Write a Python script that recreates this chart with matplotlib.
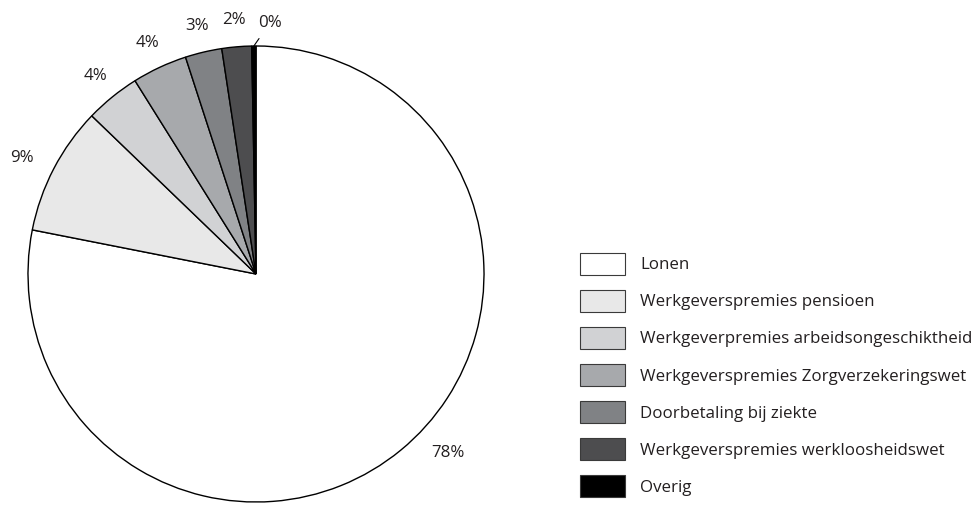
import numpy as np
import matplotlib.pyplot as plt

# loonkosten opbouw (aandelen in %)
categories = ['Lonen', 'Werkgeverspremies pensioen', 'Werkgeverpremies arbeidsongeschiktheid',
              'Werkgeverspremies Zorgverzekeringswet', 'Doorbetaling bij ziekte',
              'Werkgeverspremies werkloosheidswet', 'Overig']
shares = [78.1, 9.1, 3.9, 3.9, 2.6, 2.1, 0.3]
colors = ['#ffffff', '#e8e8e8', '#d1d2d4', '#a7a9ac', '#808285', '#4d4d4f', '#000000']

plt.rcParams['font.family'] = ['Open Sans', 'DejaVu Sans']
fs = 12.2

fig = plt.figure(figsize=(9.79, 5.07), dpi=100)
ax = fig.add_axes([28 / 979, 5 / 507, 456 / 979, 456 / 507])

wedges, texts = ax.pie(shares, colors=colors, startangle=90, counterclock=False,
                       labels=[f'{v:.0f}%' for v in shares], labeldistance=1.12,
                       wedgeprops=dict(edgecolor='black', linewidth=1.0),
                       textprops=dict(fontsize=fs, color='#231f20'))
ax.set_xlim(-1, 1)
ax.set_ylim(-1, 1)
ax.set_aspect('equal')
ax.axis('off')

for t in texts:
    t.set_ha('center')
    t.set_va('center')

# 78% label sits a bit further round in the original
a = np.deg2rad(-43)
texts[0].set_position((1.15 * np.cos(a), 1.15 * np.sin(a)))
# 9% a little further out
a = np.deg2rad(153.5)
texts[1].set_position((1.145 * np.cos(a), 1.145 * np.sin(a)))

# small slice gets a leader line
w = wedges[-1]
mid = np.deg2rad((w.theta1 + w.theta2) / 2)
texts[-1].set_visible(False)
ax.annotate(f'{shares[-1]:.0f}%', xy=(np.cos(mid), np.sin(mid)), xytext=(0.06, 1.1),
            ha='center', va='center', fontsize=fs, color='#231f20',
            arrowprops=dict(arrowstyle='-', color='black', lw=0.8, shrinkA=4, shrinkB=0))

fig.legend(wedges, categories, loc='upper left', bbox_to_anchor=(580 / 979, (507 - 253) / 507),
           frameon=False, fontsize=fs, handlelength=2.65, handleheight=1.6,
           labelspacing=0.9, handletextpad=0.9, borderpad=0, borderaxespad=0,
           labelcolor='#231f20')
for p in fig.legends[0].get_patches():
    p.set_edgecolor('#3a3a3a')
    p.set_linewidth(0.8)

fig.savefig('out.png', dpi=100)
